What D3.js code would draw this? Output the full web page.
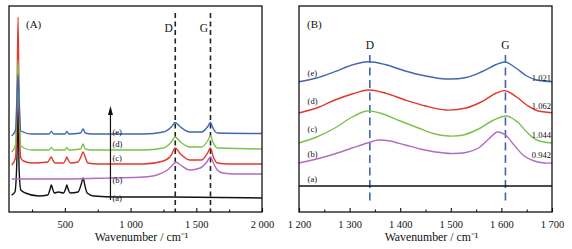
<!DOCTYPE html>
<html><head><meta charset="utf-8">
<script src="https://cdn.jsdelivr.net/npm/d3@7"></script>
<style>
body{margin:0;background:#fff;}
text{font-family:"Liberation Serif","Times New Roman",serif;fill:#111;}
</style></head>
<body><svg id="c" width="572" height="249"></svg>
<script>
// ---------- DATA ----------
const seriesNames = ["(a)","(b)","(c)","(d)","(e)"];
const colorsA = ["#111111","#b06cc0","#e2392c","#7cc14a","#4266b2"];
const colorsB = ["#111111","#b06cc0","#7cc14a","#e2392c","#4266b2"];

// Panel A: [wavenumber, intensity (offset, a.u.)]
const specA_a = [[95,17],[120,20],[135,52],[144,112],[152,42],[165,22],[200,19],[300,16],[370,17],[390,24],[397,27],[405,24],[420,19],[450,20],[490,19],[508,24],[515,27],[522,24],[540,19],[600,20],[625,28],[639,34],[650,28],[670,19],[720,16],[900,15],[1300,15],[2000,14]];
const specA_b = [[95,33],[500,33],[850,34],[1100,35],[1200,37],[1280,42],[1320,47],[1344,50],[1380,47],[1450,42],[1530,44],[1580,50],[1607,55],[1630,49],[1660,42],[1700,39],[1800,38],[2000,38]];
const specA_c = [[95,47],[125,54],[135,102],[144,195],[153,92],[165,54],[185,51],[250,49],[370,50],[390,54],[397,55],[405,53],[425,49],[490,49],[508,53],[515,55],[522,53],[545,49],[600,50],[625,56],[639,60],[652,56],[675,49],[750,48],[1100,48],[1250,51],[1310,57],[1339,64],[1380,58],[1450,52],[1540,52],[1590,60],[1607,64],[1630,55],[1660,49],[1750,48],[2000,48]];
const specA_d = [[95,60],[125,67],[135,112],[144,152],[153,107],[165,66],[250,62],[380,62],[397,64.5],[415,62],[500,62],[515,64.5],[530,62],[620,63],[639,68],[655,63],[700,62],[1100,62],[1250,64],[1310,70],[1339,75],[1380,70],[1450,65],[1540,65],[1590,72],[1607,76],[1630,69],[1660,64],[2000,63]];
const specA_e = [[95,76],[125,82],[135,112],[144,137],[153,109],[165,81],[250,78],[380,78],[397,80.5],[415,78],[500,78],[515,80.5],[530,78],[620,79],[639,83],[655,79],[700,78],[1100,78],[1250,80],[1310,85],[1339,89.5],[1380,85],[1450,80],[1540,80],[1590,86],[1607,89.5],[1630,83],[1660,79],[2000,78.5]];

// Panel B
const specB_a = [[1200,26],[1450,26],[1700,26]];
const specB_b = [[1200,49],[1235,53],[1270,58],[1305,64],[1335,69],[1357,72],[1380,71],[1410,67],[1440,63],[1470,60],[1500,58.5],[1530,59.5],[1555,64],[1575,73],[1592,80],[1608,77],[1625,67],[1645,56],[1665,51],[1685,49],[1700,49]];
const specB_c = [[1200,69],[1235,75],[1271,84],[1305,95],[1334,101],[1360,99],[1400,91],[1436,84],[1465,78.5],[1495,76],[1525,77],[1555,83],[1585,92],[1611,96],[1632,90],[1650,80],[1670,72],[1700,69]];
const specB_d = [[1200,99],[1235,104],[1271,112],[1305,118],[1337,122],[1370,119],[1410,112],[1450,106],[1490,102],[1530,104],[1560,110],[1590,119],[1608,121.3],[1630,115],[1650,107],[1670,101.5],[1700,99.3]];
const specB_e = [[1200,130.3],[1235,134],[1271,140.3],[1305,147],[1337,150.3],[1370,147.5],[1410,141],[1450,136],[1490,133],[1530,134.5],[1560,140],[1590,147.5],[1608,150],[1630,143.5],[1650,136],[1670,132],[1700,130.3]];

const peakLines = [["D",1340],["G",1608]];
const ratioLabels = ["0.942","1.044","1.062","1.021"]; // (b),(c),(d),(e)
const ticksA = [500,1000,1500,2000];
const minorA = [250,750,1250,1750];
const ticksB = [1200,1300,1400,1500,1600,1700];
const minorB = [1250,1350,1450,1550,1650];
const xLabel = "Wavenumber / cm⁻¹";

// ---------- LAYOUT ----------
const svg = d3.select("#c");
const fmt = v => { const s = String(v); return s.length>3 ? s.slice(0,s.length-3)+" "+s.slice(-3) : s; };
const yTop=6, yBot=212;
const panels = [
  {x0:9, x1:262, dom:[75,2000], data:[specA_a,specA_b,specA_c,specA_d,specA_e], colors:colorsA, ticks:ticksA, minor:minorA, tag:"(A)", curve:d3.curveMonotoneX},
  {x0:299, x1:552, dom:[1200,1700], data:[specB_a,specB_b,specB_c,specB_d,specB_e], colors:colorsB, ticks:ticksB, minor:minorB, tag:"(B)", curve:d3.curveCatmullRom.alpha(0.5)}
];
const y = d3.scaleLinear().domain([0,206]).range([yBot,yTop]);

panels.forEach((p,pi)=>{
  const x = d3.scaleLinear().domain(p.dom).range([p.x0,p.x1]);
  p.x = x;
  const g = svg.append("g");
  const line = d3.line().x(d=>x(d[0])).y(d=>y(d[1])).curve(p.curve);
  peakLines.forEach(([lab,wn])=>{
    if(pi===0){
      g.append("line").attr("x1",x(wn)).attr("x2",x(wn)).attr("y1",y(199)).attr("y2",yBot)
        .attr("stroke","#222").attr("stroke-width",1.6).attr("stroke-dasharray","5,3.5");
      g.append("text").attr("x",x(wn)-2.5).attr("y",y(180)).attr("text-anchor","end")
        .attr("font-size",11.5).text(lab);
    } else {
      g.append("line").attr("x1",x(wn)).attr("x2",x(wn)).attr("y1",y(157)).attr("y2",y(9))
        .attr("stroke","#3f63b4").attr("stroke-width",1.6).attr("stroke-dasharray","8,4.5");
      g.append("text").attr("x",x(wn)).attr("y",y(163)).attr("text-anchor","middle")
        .attr("font-size",11.5).text(lab);
    }
  });
  p.data.forEach((d,i)=>{
    g.append("path").datum(d).attr("d",line).attr("fill","none")
      .attr("stroke",p.colors[i]).attr("stroke-width",1.4);
  });
  g.append("rect").attr("x",p.x0).attr("y",yTop).attr("width",p.x1-p.x0).attr("height",yBot-yTop)
    .attr("fill","none").attr("stroke","#111").attr("stroke-width",1.3);
  const ax = d3.axisBottom(x).tickValues(p.ticks).tickSize(-4).tickPadding(9).tickFormat(fmt);
  const ag = g.append("g").attr("transform",`translate(0,${yBot})`).call(ax);
  ag.select(".domain").remove();
  ag.selectAll("line").attr("stroke","#111").attr("stroke-width",1.1);
  ag.selectAll("text").attr("font-size",10.5).attr("font-family","Liberation Serif").attr("fill","#111");
  const am = d3.axisBottom(x).tickValues(p.minor).tickSize(-2.5).tickFormat("");
  const mg = g.append("g").attr("transform",`translate(0,${yBot})`).call(am);
  mg.select(".domain").remove();
  mg.selectAll("line").attr("stroke","#111").attr("stroke-width",1.1);
  g.append("text").attr("x",(p.x0+p.x1)/2+6).attr("y",241).attr("text-anchor","middle")
    .attr("font-size",11.8).text(xLabel);
  g.append("text").attr("x",p.x0+(pi===0?17:8)).attr("y",28).attr("font-size",11).text(p.tag);
});

{
  const x = panels[0].x;
  const ax = 847;
  svg.append("line").attr("x1",x(ax)).attr("x2",x(ax)).attr("y1",y(12)).attr("y2",y(100))
    .attr("stroke","#111").attr("stroke-width",1.2);
  svg.append("path").attr("d",`M${x(ax)-2.5},${y(97)} L${x(ax)},${y(106)} L${x(ax)+2.5},${y(97)} Z`).attr("fill","#111");
  const labY = [11.5, 29.5, 51.5, 65.5, 77.5];
  seriesNames.forEach((n,i)=>{
    svg.append("text").attr("x",x(ax)+2).attr("y",y(labY[i])).attr("font-size",8.5).text(n);
  });
}
{
  const x = panels[1].x;
  const labY = [30.5, 55.5, 80.5, 108.5, 136.5];
  seriesNames.forEach((n,i)=>{
    svg.append("text").attr("x",x(1217)).attr("y",y(labY[i])).attr("font-size",8.5).text(n);
  });
  const rY = [54.5, 74.5, 103, 131];
  ratioLabels.forEach((r,i)=>{
    svg.append("text").attr("x",x(1698)).attr("y",y(rY[i])).attr("text-anchor","end").attr("font-size",8.5).text(r);
  });
}
</script></body></html>
